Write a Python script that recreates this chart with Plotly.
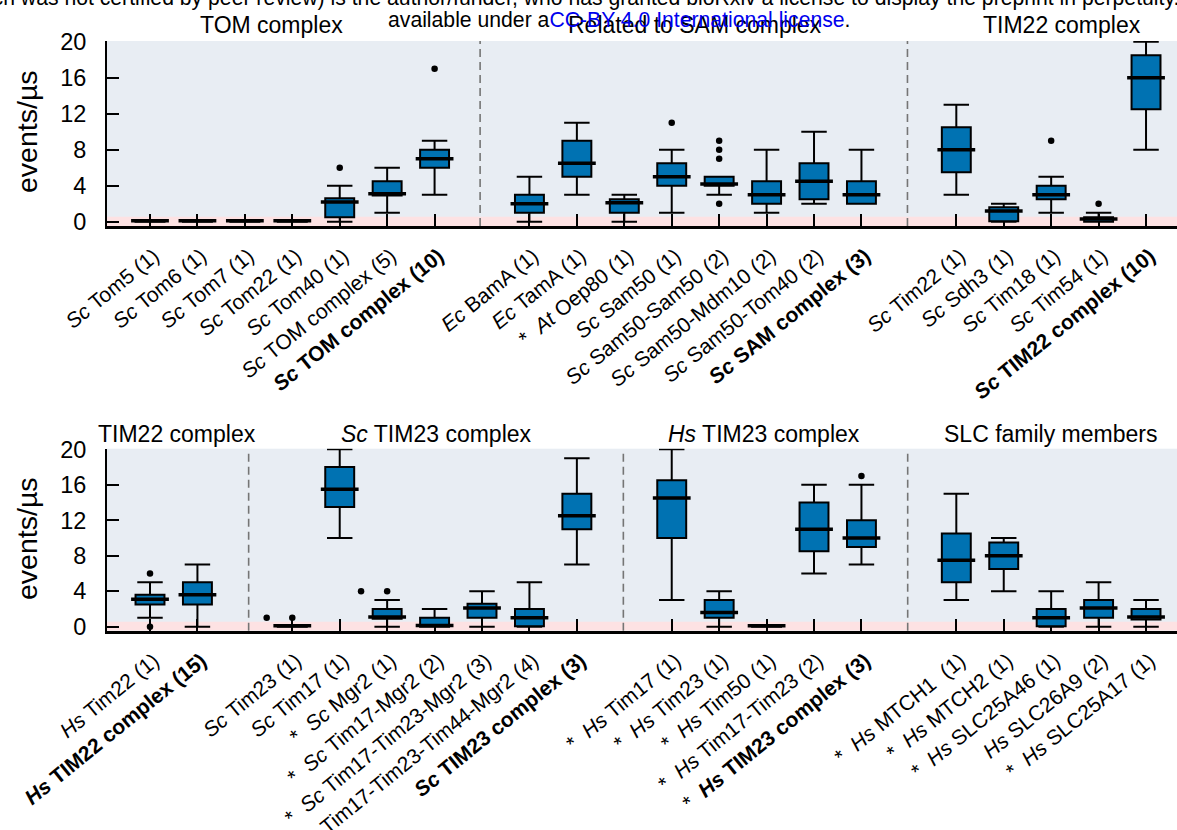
import plotly.graph_objects as go

# ---------------- data ----------------
# top panel (positions are category slots; slots 7 and 16 are separators)
top_pos = [0, 1, 2, 3, 4, 5, 6, 8, 9, 10, 11, 12, 13, 14, 15, 17, 18, 19, 20, 21]
top_labels = [
    "<i>Sc</i> Tom5 (1)", "<i>Sc</i> Tom6 (1)", "<i>Sc</i> Tom7 (1)", "<i>Sc</i> Tom22 (1)",
    "<i>Sc</i> Tom40 (1)", "<i>Sc</i> TOM complex (5)", "<b><i>Sc</i> TOM complex (10)</b>",
    "<i>Ec</i> BamA (1)", "<i>Ec</i> TamA (1)", "*\u00a0 <i>At</i> Oep80 (1)", "<i>Sc</i> Sam50 (1)",
    "<i>Sc</i> Sam50-Sam50 (2)", "<i>Sc</i> Sam50-Mdm10 (2)", "<i>Sc</i> Sam50-Tom40 (2)",
    "<b><i>Sc</i> SAM complex (3)</b>",
    "<i>Sc</i> Tim22 (1)", "<i>Sc</i> Sdh3 (1)", "<i>Sc</i> Tim18 (1)", "<i>Sc</i> Tim54 (1)",
    "<b><i>Sc</i> TIM22 complex (10)</b>",
]
top_low = [0, 0, 0, 0, 0, 1, 3, 0, 3, 0, 1, 3, 1, 2, 2, 3, 0, 1, 0, 8]
top_q1 = [0, 0, 0, 0, 0.5, 2.9, 6, 1, 5, 1, 4, 4, 2, 2.5, 2, 5.5, 0.05, 2.5, 0, 12.5]
top_med = [0.1, 0.1, 0.1, 0.1, 2.2, 3.1, 7, 2, 6.5, 2.1, 5, 4.2, 3, 4.5, 3, 8, 1.2, 3, 0.3, 16]
top_q3 = [0.2, 0.2, 0.2, 0.2, 2.6, 4.5, 8, 3, 9, 2.5, 6.5, 5, 4.5, 6.5, 4.5, 10.5, 1.6, 4, 0.5, 18.5]
top_high = [0.2, 0.2, 0.2, 0.2, 4, 6, 9, 5, 11, 3, 8, 5, 8, 10, 8, 13, 2, 5, 1, 20]
top_out_x = [4, 6, 11, 12, 12, 12, 12, 19, 20]
top_out_y = [6, 17, 11, 9, 8, 7, 2, 9, 2]
top_separators = [6.96, 15.97]
top_groups = ["TOM complex", "Related to SAM complex", "TIM22 complex"]
top_group_pos = [2.57, 11.49, 19.22]

# bottom panel
bot_pos = [0, 1, 3, 4, 5, 6, 7, 8, 9, 11, 12, 13, 14, 15, 17, 18, 19, 20, 21]
bot_labels = [
    "<i>Hs</i> Tim22 (1)", "<b><i>Hs</i> TIM22 complex (15)</b>",
    "<i>Sc</i> Tim23 (1)", "<i>Sc</i> Tim17 (1)", "*\u00a0 <i>Sc</i> Mgr2 (1)",
    "*\u00a0 <i>Sc</i> Tim17-Mgr2 (2)", "*\u00a0 <i>Sc</i> Tim17-Tim23-Mgr2 (3)",
    "*\u00a0 <i>Sc</i> Tim17-Tim23-Tim44-Mgr2 (4)", "<b><i>Sc</i> TIM23 complex (3)</b>",
    "*\u00a0 <i>Hs</i> Tim17 (1)", "*\u00a0 <i>Hs</i> Tim23 (1)", "*\u00a0 <i>Hs</i> Tim50 (1)",
    "*\u00a0 <i>Hs</i> Tim17-Tim23 (2)", "*\u00a0 <b><i>Hs</i> TIM23 complex (3)</b>",
    "*\u00a0 <i>Hs</i> MTCH1\u00a0 (1)", "*\u00a0 <i>Hs</i> MTCH2 (1)", "*\u00a0 <i>Hs</i> SLC25A46 (1)",
    "<i>Hs</i> SLC26A9 (2)", "*\u00a0 <i>Hs</i> SLC25A17 (1)",
]
bot_low = [1, 0, 0, 10, 0, 0, 0, 0, 7, 3, 0, 0, 6, 7, 3, 4, 0, 0, 0]
bot_q1 = [2.5, 2.5, 0, 13.5, 0.9, 0, 1, 0.05, 11, 10, 1, 0, 8.5, 9, 5, 6.5, 0.05, 1, 0.8]
bot_med = [3.1, 3.6, 0.1, 15.5, 1.1, 0.15, 2.1, 1, 12.5, 14.5, 1.6, 0.1, 11, 10, 7.5, 8, 1, 2.1, 1.1]
bot_q3 = [3.6, 5, 0.2, 18, 2, 1, 2.6, 2, 15, 16.5, 3, 0.2, 14, 12, 10.5, 9.5, 2, 3, 2]
bot_high = [5, 7, 0.2, 20, 3, 2, 4, 5, 19, 20, 4, 0.2, 16, 16, 15, 10, 4, 5, 3]
bot_out_x = [0, 0, 2.46, 3, 4.45, 5, 15]
bot_out_y = [6, 0, 1, 1, 4, 4, 17]
bot_separators = [2.08, 9.98, 15.975]
bot_groups = ["TIM22 complex", "<i>Sc</i> TIM23 complex", "<i>Hs</i> TIM23 complex", "SLC family members"]
bot_group_pos = [0.56, 6.03, 12.95, 18.98]

y_ticks = [0, 4, 8, 12, 16, 20]
y_title = "events/µs"

# ---------------- style ----------------
BOX_BLUE = "#0072B2"
BG = "#e8edf3"
PINK = "#fde2e3"
FONT = "Liberation Sans, Arial, Helvetica, sans-serif"
W, H = 1177, 830
L_PX = 107
XR = [-0.9066, 21.653]


def py(pix):
    return 1 - pix / H


def px_x(pix):
    return (pix - L_PX) / (W - L_PX)


fig = go.Figure()


def add_panel(xa, ya, pos, low, q1, med, q3, high, ox, oy):
    fig.add_trace(go.Box(
        x=pos, q1=q1, median=med, q3=q3, lowerfence=low, upperfence=high,
        width=0.61, whiskerwidth=0.88, fillcolor=BOX_BLUE,
        line=dict(color="black", width=2), boxpoints=False,
        xaxis=xa, yaxis=ya, showlegend=False, hoverinfo="skip"))
    fig.add_trace(go.Scatter(
        x=pos, y=med, mode="markers", xaxis=xa, yaxis=ya, showlegend=False,
        marker=dict(symbol="line-ew", size=27, color="black",
                    line=dict(width=3.5, color="black")), hoverinfo="skip"))
    fig.add_trace(go.Scatter(
        x=ox, y=oy, mode="markers", xaxis=xa, yaxis=ya, showlegend=False,
        marker=dict(symbol="circle", size=6.5, color="black"), hoverinfo="skip"))


add_panel("x", "y", top_pos, top_low, top_q1, top_med, top_q3, top_high, top_out_x, top_out_y)
add_panel("x2", "y2", bot_pos, bot_low, bot_q1, bot_med, bot_q3, bot_high, bot_out_x, bot_out_y)

top_dom = [py(226), py(41)]
bot_dom = [py(630.7), py(448.7)]

xcommon = dict(range=XR, tickmode="array", tickangle=-39, ticks="inside", ticklen=12,
               tickwidth=1.8, tickcolor="black", showline=True, linecolor="black",
               linewidth=2.5, showgrid=False, zeroline=False,
               tickfont=dict(size=21, color="black", family=FONT),
               ticklabelstandoff=7, ticklabelshift=4, layer="below traces", automargin=False)
ycommon = dict(tickmode="array", tickvals=y_ticks, ticks="inside", ticklen=12, tickwidth=1.8,
               tickcolor="black", showline=True, linecolor="black", linewidth=2,
               showgrid=False, zeroline=False,
               tickfont=dict(size=23.5, color="black", family=FONT),
               ticklabelstandoff=14, automargin=False)

fig.update_layout(
    width=W, height=H,
    margin=dict(l=L_PX, r=0, t=0, b=0),
    paper_bgcolor="white", plot_bgcolor=BG, showlegend=False,
    boxgap=0, boxgroupgap=0,
    font=dict(family=FONT, color="black"),
    xaxis=dict(domain=[0, 1], anchor="y", tickvals=top_pos, ticktext=top_labels, **xcommon),
    yaxis=dict(domain=top_dom, anchor="x", range=[-0.48, 20.08], **ycommon),
    xaxis2=dict(domain=[0, 1], anchor="y2", tickvals=bot_pos, ticktext=bot_labels, **xcommon),
    yaxis2=dict(domain=bot_dom, anchor="x2", range=[-0.45, 20.07], **ycommon),
)

shapes = []
for xr, yr, y0 in [("x", "y", -0.48), ("x2", "y2", -0.45)]:
    shapes.append(dict(type="rect", xref=xr + " domain", yref=yr, x0=0, x1=1, y0=y0, y1=0.55,
                       fillcolor=PINK, line=dict(width=0), layer="below"))
for xr, yr, seps in [("x", "y", top_separators), ("x2", "y2", bot_separators)]:
    for s in seps:
        shapes.append(dict(type="line", xref=xr, yref=yr + " domain", x0=s, x1=s, y0=0, y1=1,
                           line=dict(color="#757575", width=1.6, dash="8px,5px"), layer="below"))
fig.update_layout(shapes=shapes)

ann = []
for name, p in zip(top_groups, top_group_pos):
    ann.append(dict(text=name, x=p, xref="x", y=py(25), yref="paper", showarrow=False,
                    xanchor="center", yanchor="middle", font=dict(size=23, color="black")))
for name, p in zip(bot_groups, bot_group_pos):
    ann.append(dict(text=name, x=p, xref="x2", y=py(434), yref="paper", showarrow=False,
                    xanchor="center", yanchor="middle", font=dict(size=23, color="black")))
for yc in [132, 539]:
    ann.append(dict(text=y_title, x=px_x(27), xref="paper", y=py(yc), yref="paper",
                    showarrow=False, textangle=-90, xanchor="center", yanchor="middle",
                    font=dict(size=28.5, color="black")))
# bioRxiv watermark lines (partly cut at the top)
ann.append(dict(text="preprint (which was not certified by peer review) is the author/funder, "
                     "who has granted bioRxiv a license to display the preprint in perpetuity. It is made",
                x=px_x(-126), xref="paper", y=py(-2), yref="paper", showarrow=False,
                xanchor="left", yanchor="middle", font=dict(size=21.2, color="black")))
ann.append(dict(text="available under a<span style='color:#0000ee'>CC-BY 4.0 International license</span>.",
                x=px_x(619), xref="paper", y=py(19), yref="paper", showarrow=False,
                xanchor="center", yanchor="middle", font=dict(size=21.2, color="black")))
fig.update_layout(annotations=ann)

fig.write_html("out.html", config={"displayModeBar": False},
               post_script="document.body.style.margin='0';document.body.style.overflow='hidden';")
